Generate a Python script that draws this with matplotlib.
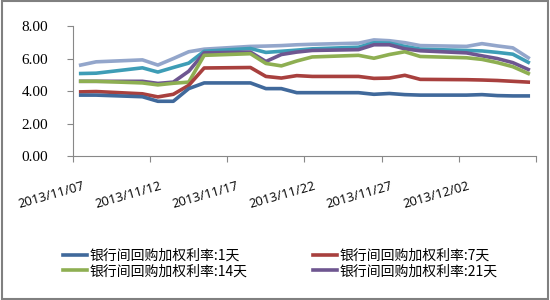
import matplotlib
matplotlib.use("Agg")
import matplotlib.pyplot as plt
import matplotlib.transforms as mtransforms
from matplotlib.patches import Rectangle

# trading day offsets from 2013/11/07
days = [0, 1, 4, 5, 6, 7, 8, 11, 12, 13, 14, 15, 18, 19, 20, 21, 22, 25, 26, 27, 28, 29]

r1d = [3.75, 3.75, 3.65, 3.37, 3.37, 4.15, 4.5, 4.5, 4.15, 4.15, 3.9, 3.9,
       3.9, 3.8, 3.85, 3.78, 3.75, 3.75, 3.78, 3.72, 3.7, 3.7]
r7d = [3.95, 3.97, 3.83, 3.64, 3.8, 4.35, 5.42, 5.45, 4.9, 4.8, 4.95, 4.9,
       4.9, 4.78, 4.8, 4.97, 4.72, 4.7, 4.68, 4.65, 4.6, 4.55]
r14d = [4.6, 4.6, 4.5, 4.38, 4.48, 4.55, 6.2, 6.3, 5.7, 5.55, 5.85, 6.1,
        6.2, 6.02, 6.25, 6.42, 6.13, 6.05, 5.95, 5.75, 5.5, 5.08]
r21d = [4.6, 4.6, 4.6, 4.47, 4.55, 5.22, 6.35, 6.4, 5.82, 6.25, 6.4, 6.5,
        6.55, 6.85, 6.85, 6.6, 6.48, 6.35, 6.17, 6.0, 5.75, 5.33]
r1m = [5.08, 5.1, 5.43, 5.17, 5.45, 5.72, 6.45, 6.62, 6.38, 6.45, 6.52, 6.6,
       6.7, 6.97, 6.95, 6.75, 6.58, 6.5, 6.47, 6.38, 6.27, 5.77]
r3m = [5.6, 5.8, 5.92, 5.6, 6.0, 6.42, 6.58, 6.75, 6.77, 6.8, 6.85, 6.88,
       6.95, 7.15, 7.1, 6.98, 6.8, 6.75, 6.92, 6.78, 6.66, 6.05]

series_names = ["银行间回购加权利率:1天", "银行间回购加权利率:7天",
                "银行间回购加权利率:14天", "银行间回购加权利率:21天",
                "银行间回购加权利率:1月", "银行间回购加权利率:3月"]
colors = ["#40699B", "#A8403E", "#8EAF52", "#6E5690", "#3E9DB6", "#93A6CB"]

tick_labels = ["2013/11/07", "2013/11/12", "2013/11/17", "2013/11/22",
               "2013/11/27", "2013/12/02"]
yticks = [0, 2, 4, 6, 8]

fig = plt.figure(figsize=(5.5, 3.0), dpi=100)
fig.patches.append(Rectangle((0.003, 0.003), 0.994, 0.994, transform=fig.transFigure,
                             fill=False, edgecolor="#808080", linewidth=1.5))
ax = fig.add_axes([0.1327, 0.48, 0.8418, 0.433])

data = [r1d, r7d, r14d, r21d, r1m, r3m]
order = [5, 4, 3, 2, 1, 0]
handles = {}
for i in order:
    h, = ax.plot(days, data[i], color=colors[i], linewidth=2.6,
                 solid_joinstyle="round", label=series_names[i], zorder=3 + (5 - i))
    handles[i] = h

ax.set_xlim(-0.5, 29.5)
ax.set_ylim(0, 8)
ax.set_yticks(yticks)
ax.set_yticklabels([f"{v:.2f}" for v in yticks], family="Liberation Serif", fontsize=11)
ax.set_xticks([-0.5 + 5 * k for k in range(7)])
ax.set_xticklabels(tick_labels + [""], rotation=16, ha="right",
                   rotation_mode="anchor", family="Open Sans", fontsize=9.3)
ax.tick_params(axis="x", length=4, color="#888888", pad=13)
ax.tick_params(axis="y", length=4, color="#888888", pad=14)
for s in ["top", "right"]:
    ax.spines[s].set_visible(False)
for s in ["left", "bottom"]:
    ax.spines[s].set_color("#888888")
    ax.spines[s].set_linewidth(0.8)
shift = mtransforms.ScaledTranslation(0.09, 0.0, fig.dpi_scale_trans)
for lbl in ax.get_xticklabels():
    lbl.set_transform(lbl.get_transform() + shift)

leg_order = [0, 2, 1, 3]
leg = fig.legend([handles[i] for i in leg_order], [series_names[i] for i in leg_order],
                 loc="center", bbox_to_anchor=(0.51, 0.122), ncol=2,
                 frameon=False, prop={"family": ["Noto Sans CJK SC", "DejaVu Sans"], "size": 10},
                 handlelength=1.7, handletextpad=0.2, columnspacing=4.7,
                 labelspacing=0.12)

fig.savefig("out.png", dpi=100)
